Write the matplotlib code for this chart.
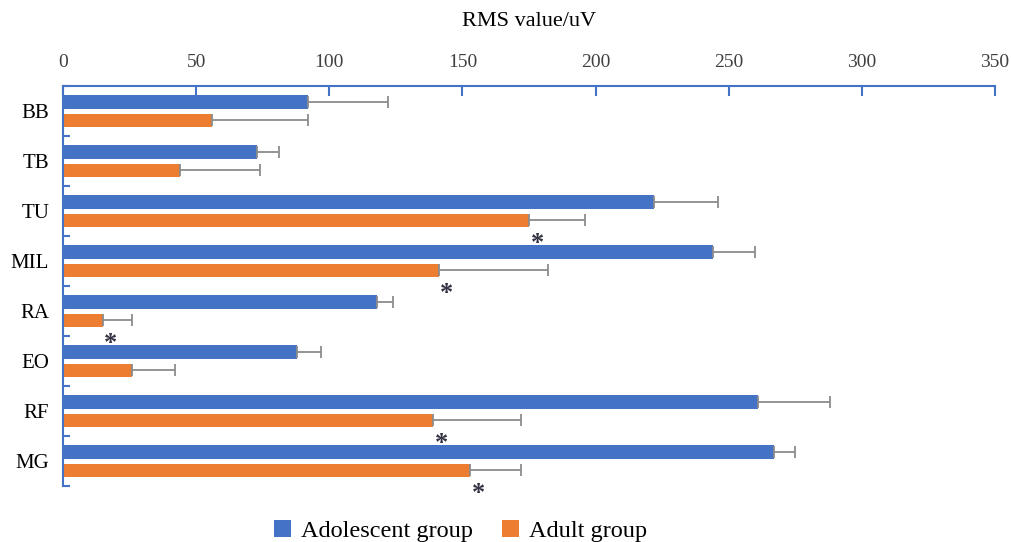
import matplotlib.pyplot as plt
import numpy as np

muscles = ['BB', 'TB', 'TU', 'MIL', 'RA', 'EO', 'RF', 'MG']
adolescent = [92, 73, 222, 244, 118, 88, 261, 267]
adolescent_sd = [30, 8, 24, 16, 6, 9, 27, 8]
adult = [56, 44, 175, 141, 15, 26, 139, 153]
adult_sd = [36, 30, 21, 41, 11, 16, 33, 19]
significant = [False, False, True, True, True, False, True, True]

blue = '#4472C4'
orange = '#ED7D31'
serif = ['Liberation Serif', 'DejaVu Serif']

fig = plt.figure(figsize=(10.12, 5.42), dpi=100)
ax = fig.add_axes([0.0623, 0.1033, 0.921, 0.738])

y = np.arange(len(muscles))
h = 0.27
err_kw = dict(ecolor='#8c8c8c', elinewidth=1.3, capsize=4, capthick=1.3)
ax.barh(y - 0.185, adolescent, height=h, color=blue, xerr=[np.zeros(8), adolescent_sd],
        error_kw=err_kw, label='Adolescent group')
ax.barh(y + 0.185, adult, height=h, color=orange, xerr=[np.zeros(8), adult_sd],
        error_kw=err_kw, label='Adult group')

# asterisks under the adult bars
for i, s in enumerate(significant):
    if s:
        ax.text(adult[i] + 3, i + 0.65, '*', ha='center', va='center',
                fontsize=19, color='#333344', family=serif, fontweight='bold')

ax.set_xlim(0, 350)
ax.set_ylim(len(muscles) - 0.5, -0.5)
ax.xaxis.tick_top()
ax.xaxis.set_label_position('top')
ax.set_xticks(range(0, 351, 50))
ax.tick_params(axis='x', direction='in', length=7, width=1.5, color=blue,
               labelsize=14, labelcolor='#404040', pad=11)
for lab in ax.get_xticklabels():
    lab.set_family(serif)

ax.set_yticks(y)
ax.set_yticklabels(muscles, family=serif, fontsize=15)
ax.set_yticks(np.arange(-0.5, len(muscles), 1), minor=True)
ax.tick_params(axis='y', which='major', length=0, pad=10)
ax.tick_params(axis='y', which='minor', direction='in', length=5, width=1.5, color=blue)

ax.set_xlabel('RMS value/uV', family=serif, fontsize=16, labelpad=20)

for side in ['right', 'bottom']:
    ax.spines[side].set_visible(False)
for side in ['top', 'left']:
    ax.spines[side].set_color(blue)
    ax.spines[side].set_linewidth(1.5)

leg = fig.legend(loc='lower center', bbox_to_anchor=(0.455, -0.04), ncol=2, frameon=False,
                 prop={'family': 'Liberation Serif', 'size': 17.5}, handlelength=0.7,
                 handleheight=0.7, columnspacing=1.2, handletextpad=0.4)

fig.savefig('out.png', dpi=100)
